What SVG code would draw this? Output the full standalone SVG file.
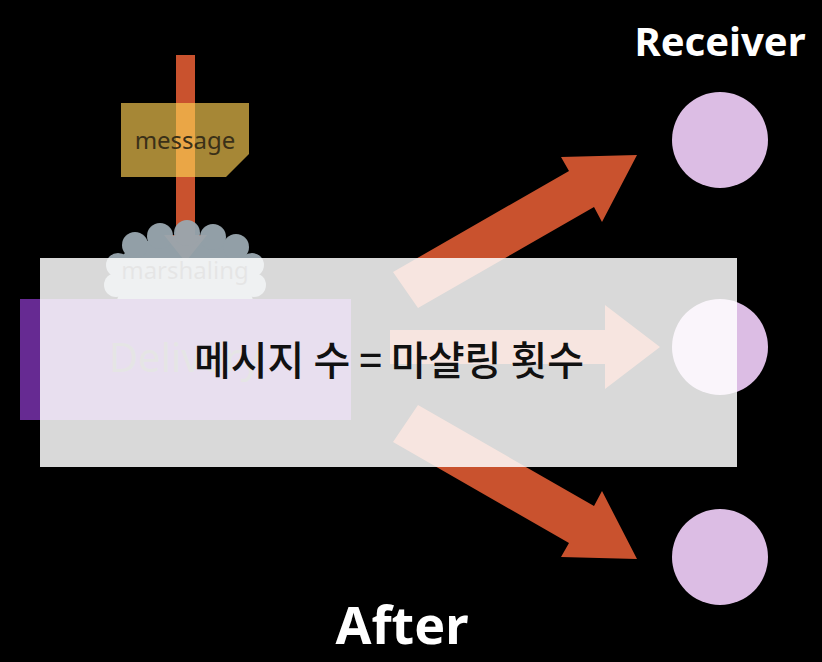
<svg xmlns="http://www.w3.org/2000/svg" width="822" height="662" viewBox="0 0 822 662">
<style>
.arr{fill:#c9522e}
.rcv{fill:#dcbde4}
.w{fill:#fff;font-family:"Noto Sans","Liberation Sans",sans-serif;font-weight:bold;text-anchor:middle}
</style>
<rect width="822" height="662" fill="#000"/>
<g id="connectors">
<polygon class="arr" points="176,55 195,55 195,235 207,235 185.5,262 164,235 176,235"/>
<polygon class="arr" points="393,272 569,171 561,157 637,155 602,222 594,207 418,308"/>
<polygon class="arr" points="390,330 605,330 605,305 660,347 605,389 605,364 390,364"/>
<polygon class="arr" points="418,405 594,506 602,491 637,559 561,557 569,543 393,442"/>
</g>
<g id="receivers">
<text class="w" x="720" y="56" font-size="40">Receiver</text>
<circle class="rcv" cx="720" cy="140" r="48"/>
<circle class="rcv" cx="720" cy="347" r="48"/>
<circle class="rcv" cx="720" cy="557" r="48"/>
</g>
<g id="message">
<polygon points="121,103 249,103 249,154 226,177 121,177" fill="#b8963c" opacity="0.9"/>
<rect x="176" y="103" width="19" height="74" fill="#f0a848" opacity="0.9"/>
<text x="185" y="149" font-size="24" font-family="Noto Sans,Liberation Sans,sans-serif" text-anchor="middle" fill="#3a3018">message</text>
</g>
<g id="cloud" fill="#9aa8b0" opacity="0.95">
<ellipse cx="185" cy="275" rx="72" ry="40"/>
<circle cx="135" cy="245" r="13"/><circle cx="160" cy="236" r="13"/><circle cx="187" cy="233" r="13"/><circle cx="213" cy="237" r="13"/><circle cx="236" cy="247" r="13"/>
<circle cx="118" cy="265" r="12"/><circle cx="252" cy="265" r="12"/><circle cx="116" cy="285" r="12"/><circle cx="254" cy="285" r="12"/>
<circle cx="130" cy="302" r="13"/><circle cx="157" cy="313" r="13"/><circle cx="187" cy="317" r="13"/><circle cx="215" cy="313" r="13"/><circle cx="240" cy="302" r="13"/>
</g>
<g id="delivery">
<rect x="20" y="299" width="331" height="121" fill="#662a92"/>
<text x="185" y="372" font-size="40" font-family="Noto Sans,Liberation Sans,sans-serif" text-anchor="middle" fill="#555">Delivery</text>
</g>
<text x="185" y="279" font-size="24" font-family="Noto Sans,Liberation Sans,sans-serif" text-anchor="middle" fill="#555">marshaling</text>
<g id="overlay">
<rect x="40" y="258" width="697" height="209" fill="#fff" opacity="0.85"/>
<text x="389" y="375" font-size="40" font-family="Noto Sans CJK KR,sans-serif" text-anchor="middle" fill="#111" font-weight="500">메시지 수 = 마샬링 횟수</text>
</g>
<text class="w" x="402" y="644" font-size="52">After</text>
</svg>
